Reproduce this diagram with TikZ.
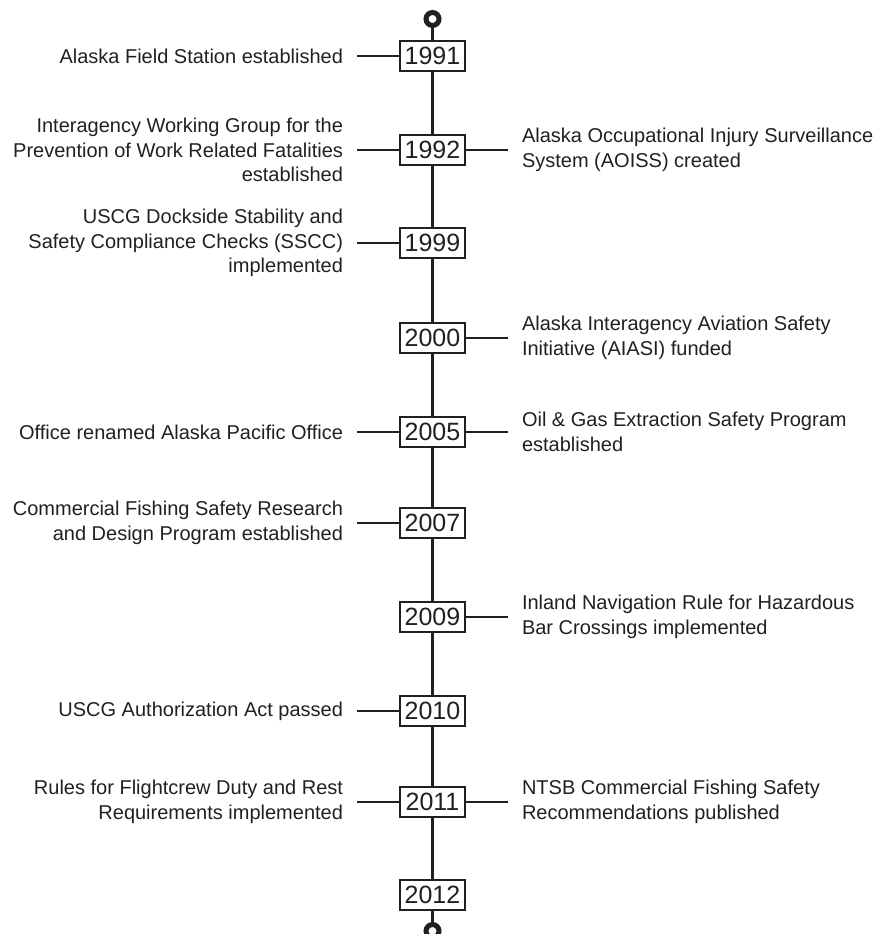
\documentclass[tikz,border=0pt]{standalone}
\usepackage{fontspec}
\setmainfont{Liberation Sans}
\definecolor{ink}{HTML}{231F20}
\begin{document}
\begin{tikzpicture}[x=1pt,y=-1pt,
  yearbox/.style={draw=ink, line width=2.2pt, fill=white, minimum width=65pt, minimum height=30pt, inner sep=0pt, font=\fontsize{25}{25}\selectfont, text=ink},
  desc/.style={font=\fontsize{20}{24.5}\selectfont, text=ink, inner ysep=0pt, inner xsep=0pt, outer xsep=14pt, outer ysep=0pt},
  lefttext/.style={desc, anchor=east, align=right},
  righttext/.style={desc, anchor=west, align=left},
  conn/.style={draw=ink, line width=2.6pt},
  endcircle/.style={circle, draw=ink, line width=5pt, minimum size=13pt, inner sep=0pt, fill=white}]
\useasboundingbox (0,0) rectangle (879,934);
\clip (0,0) rectangle (879,934);
% end markers
\node[endcircle] (top) at (432.5,19) {};
\node[endcircle] (bot) at (432.5,931) {};
% year boxes
\node[yearbox] (y1991) at (432.5,56) {1991};
\node[yearbox] (y1992) at (432.5,150) {1992};
\node[yearbox] (y1999) at (432.5,243) {1999};
\node[yearbox] (y2000) at (432.5,338) {2000};
\node[yearbox] (y2005) at (432.5,432) {2005};
\node[yearbox] (y2007) at (432.5,523) {2007};
\node[yearbox] (y2009) at (432.5,617) {2009};
\node[yearbox] (y2010) at (432.5,711) {2010};
\node[yearbox] (y2011) at (432.5,802) {2011};
\node[yearbox] (y2012) at (432.5,895) {2012};
% timeline
\draw[conn] (top) -- (y1991);
\draw[conn] (y1991) -- (y1992);
\draw[conn] (y1992) -- (y1999);
\draw[conn] (y1999) -- (y2000);
\draw[conn] (y2000) -- (y2005);
\draw[conn] (y2005) -- (y2007);
\draw[conn] (y2007) -- (y2009);
\draw[conn] (y2009) -- (y2010);
\draw[conn] (y2010) -- (y2011);
\draw[conn] (y2011) -- (y2012);
\draw[conn] (y2012) -- (bot);
% left descriptions
\node[lefttext] (l1991) at (357,56) {Alaska Field Station established};
\node[lefttext] (l1992) at (357,150) {Interagency Working Group for the\\Prevention of Work Related Fatalities\\established};
\node[lefttext] (l1999) at (357,243) {USCG Dockside Stability and\\Safety Compliance Checks (SSCC)\\implemented};
\node[lefttext] (l2005) at (357,432) {Office renamed Alaska Pacific Office};
\node[lefttext] (l2007) at (357,523) {Commercial Fishing Safety Research\\and Design Program established};
\node[lefttext] (l2010) at (357,711) {USCG Authorization Act passed};
\node[lefttext] (l2011) at (357,802) {Rules for Flightcrew Duty and Rest\\Requirements implemented};
% right descriptions
\node[righttext] (r1992) at (508,150) {Alaska Occupational Injury Surveillance\\System (AOISS) created};
\node[righttext] (r2000) at (508,338) {Alaska Interagency Aviation Safety\\Initiative (AIASI) funded};
\node[righttext] (r2005) at (508,432) {Oil \& Gas Extraction Safety Program\\established};
\node[righttext] (r2009) at (508,617) {Inland Navigation Rule for Hazardous\\Bar Crossings implemented};
\node[righttext] (r2011) at (508,802) {NTSB Commercial Fishing Safety\\Recommendations published};
% connectors
\draw[conn] (l1991.east) -- (y1991.west);
\draw[conn] (l1992.east) -- (y1992.west);
\draw[conn] (l1999.east) -- (y1999.west);
\draw[conn] (l2005.east) -- (y2005.west);
\draw[conn] (l2007.east) -- (y2007.west);
\draw[conn] (l2010.east) -- (y2010.west);
\draw[conn] (l2011.east) -- (y2011.west);
\draw[conn] (y1992.east) -- (r1992.west);
\draw[conn] (y2000.east) -- (r2000.west);
\draw[conn] (y2005.east) -- (r2005.west);
\draw[conn] (y2009.east) -- (r2009.west);
\draw[conn] (y2011.east) -- (r2011.west);
\end{tikzpicture}
\end{document}
